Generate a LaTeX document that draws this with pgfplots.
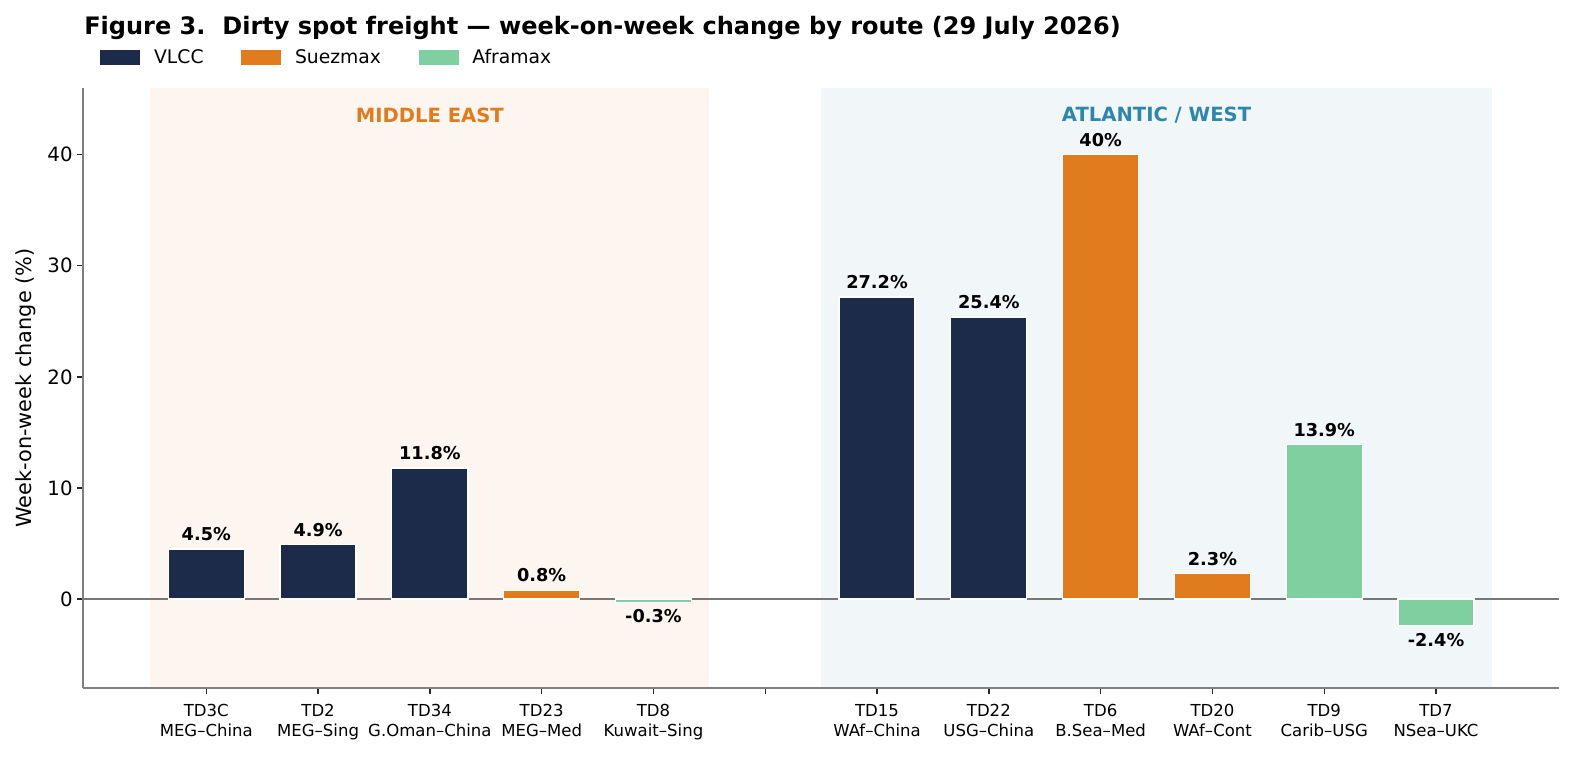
\documentclass[border=0pt]{standalone}
\usepackage{fontspec}
\setmainfont{DejaVu Sans}
\usepackage{pgfplots}
\pgfplotsset{compat=1.18}
\definecolor{navy}{HTML}{1D2B4B}
\definecolor{suez}{HTML}{E07B1E}
\definecolor{afra}{HTML}{7FCFA0}
\definecolor{mebg}{HTML}{FDF5EF}
\definecolor{atbg}{HTML}{F1F6F9}
\definecolor{atblue}{HTML}{2E86AB}
\definecolor{spine}{HTML}{808080}
\definecolor{zerogray}{HTML}{777777}
\pgfplotsset{
  mybar/.style={ybar, bar width=0.68, bar shift=0pt, draw=white, line width=0.9pt,
    legend image code/.code={\fill[##1,draw=none] (0pt,-5.2pt) rectangle (28.8pt,5.6pt);},
    nodes near coords, point meta=explicit symbolic},
  pos/.style={nodes near coords style={anchor=base, yshift=6.1pt, text=black, font=\fontsize{12.75}{15}\selectfont\bfseries}},
  neg/.style={nodes near coords style={anchor=base, yshift=-14.8pt, text=black, font=\fontsize{12.75}{15}\selectfont\bfseries}},
}
\begin{document}
\begin{tikzpicture}
\useasboundingbox (-59.98pt,-49.68pt) rectangle (1073.3pt,495.36pt);
\node[anchor=base west, font=\fontsize{17.3}{21}\selectfont\bfseries, inner sep=0pt] at (0.5pt,470.2pt)
  {Figure 3.\ \ Dirty spot freight — week-on-week change by route (29 July 2026)};
\begin{axis}[
  at={(0pt,0pt)}, anchor=south west,
  scale only axis, width=1062.5pt, height=432pt,
  xmin=-1.1, xmax=12.1, ymin=-8, ymax=46,
  axis x line*=bottom, axis y line*=left,
  axis line style={draw=spine, line width=1.2pt, -},
  xtick={0,...,11},
  xticklabels={{TD3C\\MEG–China},{TD2\\MEG–Sing},{TD34\\G.Oman–China},{TD23\\MEG–Med},{TD8\\Kuwait–Sing},{},{TD15\\WAf–China},{TD22\\USG–China},{TD6\\B.Sea–Med},{TD20\\WAf–Cont},{TD9\\Carib–USG},{TD7\\NSea–UKC}},
  xticklabel style={align=center, font=\fontsize{11.9}{13.9}\selectfont, yshift=-4.3pt},
  ytick={0,10,20,30,40},
  yticklabel style={font=\fontsize{14.2}{16}\selectfont},
  /pgf/number format/assume math mode=true,
  tick align=outside, major tick length=4.2pt,
  tick style={draw=black!85, line width=1pt},
  axis on top,
  ylabel={Week-on-week change (\%)},
  ylabel style={font=\fontsize{15}{18}\selectfont, at={(axis description cs:-0.0392,0.5)}, anchor=center},
  legend style={draw=none, fill=none, at={(axis description cs:0.0113,1.0508)}, anchor=west,
    legend columns=-1, inner sep=0pt, nodes={inner sep=0pt, font=\fontsize{13.5}{16}\selectfont},
    /tikz/every odd column/.append style={column sep=10pt},
    /tikz/every even column/.append style={column sep=27pt}},
]
\addplot[fill=mebg, draw=none, forget plot] coordinates {(-0.5,-8) (-0.5,46) (4.5,46) (4.5,-8)} -- cycle;
\addplot[fill=atbg, draw=none, forget plot] coordinates {(5.5,-8) (5.5,46) (11.5,46) (11.5,-8)} -- cycle;
\addplot[zerogray, line width=1.3pt, forget plot] coordinates {(-1.1,0) (12.1,0)};
\node[font=\fontsize{14.1}{17}\selectfont\bfseries, text=suez] at (axis cs:2,43.57) {MIDDLE EAST};
\node[font=\fontsize{14.1}{17}\selectfont\bfseries, text=atblue] at (axis cs:8.5,43.57) {ATLANTIC / WEST};
\addplot[mybar, pos, fill=navy] coordinates {(0,4.5)[4.5\%] (1,4.9)[4.9\%] (2,11.8)[11.8\%] (6,27.2)[27.2\%] (7,25.4)[25.4\%]};
\addlegendentry{VLCC}
\addplot[mybar, pos, fill=suez] coordinates {(3,0.8)[0.8\%] (8,40)[40\%] (9,2.3)[2.3\%]};
\addlegendentry{Suezmax}
\addplot[mybar, pos, fill=afra] coordinates {(10,13.9)[13.9\%]};
\addlegendentry{Aframax}
\addplot[mybar, neg, fill=afra, forget plot] coordinates {(4,-0.3)[-0.3\%] (11,-2.4)[-2.4\%]};
\end{axis}
\end{tikzpicture}
\end{document}
